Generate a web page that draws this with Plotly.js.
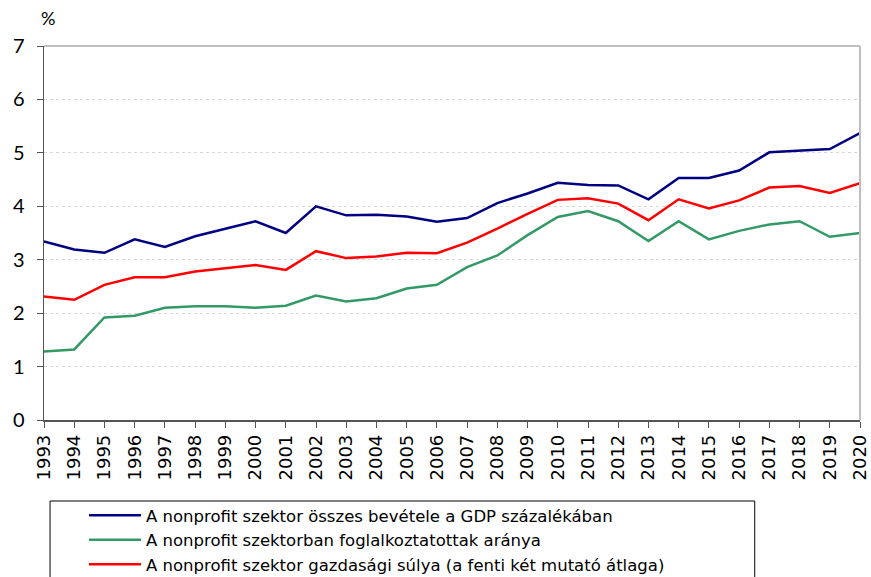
<!DOCTYPE html>
<html>
<head>
<meta charset="utf-8">
<script src="https://cdn.plot.ly/plotly-3.0.1.min.js"></script>
<style>
html,body{margin:0;padding:0;background:#fff;}
#chart{width:871px;height:577px;}
</style>
</head>
<body>
<div id="chart"></div>
<script>
const years = [1993,1994,1995,1996,1997,1998,1999,2000,2001,2002,2003,2004,2005,2006,2007,2008,2009,2010,2011,2012,2013,2014,2015,2016,2017,2018,2019,2020];
const revenueGDP = [3.34,3.19,3.13,3.38,3.24,3.44,3.58,3.72,3.50,4.00,3.83,3.84,3.81,3.71,3.78,4.06,4.24,4.44,4.40,4.39,4.13,4.53,4.53,4.67,5.01,5.04,5.07,5.37];
const employment = [1.28,1.32,1.92,1.95,2.10,2.13,2.13,2.10,2.14,2.33,2.22,2.28,2.46,2.53,2.86,3.08,3.46,3.80,3.91,3.72,3.35,3.72,3.38,3.54,3.66,3.72,3.43,3.50];
const economicWeight = [2.31,2.25,2.53,2.67,2.67,2.78,2.84,2.90,2.81,3.16,3.03,3.06,3.13,3.12,3.32,3.58,3.86,4.12,4.15,4.05,3.74,4.13,3.96,4.11,4.35,4.38,4.25,4.43];
const seriesNames = [
  "A nonprofit szektor összes bevétele a GDP százalékában",
  "A nonprofit szektorban foglalkoztatottak aránya",
  "A nonprofit szektor gazdasági súlya (a fenti két mutató átlaga)"
];
const yTicks = [0,1,2,3,4,5,6,7];

const traces = [
  {x: years, y: revenueGDP, name: seriesNames[0], mode: "lines", line: {color: "#000080", width: 2.5}},
  {x: years, y: employment, name: seriesNames[1], mode: "lines", line: {color: "#339966", width: 2.5}},
  {x: years, y: economicWeight, name: seriesNames[2], mode: "lines", line: {color: "#ff0000", width: 2.5}}
];

const layout = {
  width: 871, height: 577,
  margin: {l: 44, r: 11, t: 46, b: 157, autoexpand: false},
  paper_bgcolor: "#fff", plot_bgcolor: "#fff",
  font: {family: "Liberation Sans, Arial, sans-serif", color: "#000"},
  showlegend: true,
  legend: {
    x: 0.049, y: -0.2086, xanchor: "left", yanchor: "top",
    orientation: "v",
    borderwidth: 0, bgcolor: "rgba(0,0,0,0)",
    font: {family: "DejaVu Sans, sans-serif", size: 16.5, color: "#000"},
    tracegroupgap: 0,
    itemwidth: 52
  },
  xaxis: {
    type: "linear",
    range: [1993, 2020],
    tickmode: "array", tickvals: years, ticktext: years.map(String),
    tickangle: -90,
    ticks: "outside", ticklen: 6, tickcolor: "#555",
    showline: true, linecolor: "#555", linewidth: 1.5,
    showgrid: false, zeroline: false, automargin: false,
    tickfont: {family: "DejaVu Sans, sans-serif", size: 18, color: "#000"}
  },
  yaxis: {
    range: [0, 7],
    tickmode: "array", tickvals: yTicks,
    ticks: "outside", ticklen: 6, tickcolor: "#555",
    showline: true, linecolor: "#555", linewidth: 1.5,
    showgrid: true, gridcolor: "#d9d9d9", griddash: "dot", gridwidth: 1,
    zeroline: false, automargin: false, ticklabelstandoff: 8,
    tickfont: {family: "Lato, Liberation Sans, sans-serif", size: 20, color: "#000"}
  },
  shapes: [
    {type: "line", xref: "paper", yref: "paper", x0: 0, x1: 1, y0: 1, y1: 1, line: {color: "#bfbfbf", width: 2}},
    {type: "line", xref: "paper", yref: "paper", x0: 1, x1: 1, y0: 0, y1: 1, line: {color: "#bfbfbf", width: 2}},
    {type: "rect", xref: "paper", yref: "paper", x0: 0.0074, x1: 0.871, y0: -0.2166, y1: -0.45, line: {color: "#000", width: 1}, fillcolor: "rgba(0,0,0,0)", layer: "below"}
  ],
  annotations: [
    {text: "%", xref: "paper", yref: "paper", x: -0.006, y: 1.04, xanchor: "left", yanchor: "bottom",
     showarrow: false, font: {family: "Lato, Liberation Sans, sans-serif", size: 18, color: "#000"}}
  ]
};

Plotly.newPlot("chart", traces, layout, {displayModeBar: false, staticPlot: true});
</script>
</body>
</html>
